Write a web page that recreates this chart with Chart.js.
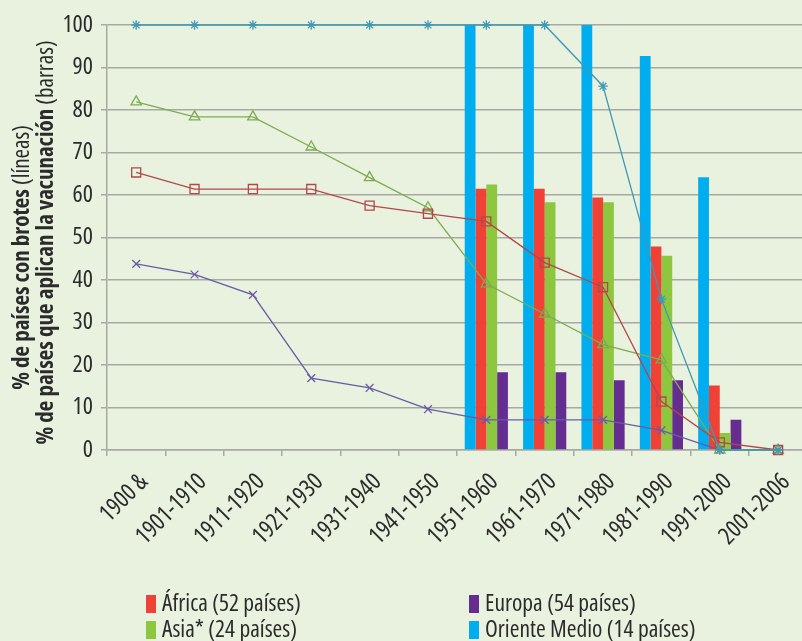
<!DOCTYPE html>
<html>
<head>
<meta charset="utf-8">
<script src="https://cdn.jsdelivr.net/npm/chart.js@4.4.1/dist/chart.umd.min.js"></script>
<style>
  html, body { margin: 0; padding: 0; background: #e9f2de; overflow: hidden; }
  /* the original plot runs a few pixels past the right edge of the picture */
  #wrap { width: 815px; height: 641px; }
</style>
</head>
<body>
<div id="wrap"><canvas id="chart" width="815" height="641"></canvas></div>
<script>
// =============================================================================
// DATA
// =============================================================================

const decades = ['1900 &', '1901-1910', '1911-1920', '1921-1930', '1931-1940', '1941-1950',
                 '1951-1960', '1961-1970', '1971-1980', '1981-1990', '1991-2000', '2001-2006'];

const regions = ['África (52 países)', 'Asia* (24 países)', 'Europa (54 países)', 'Oriente Medio (14 países)'];

// % de países que aplican la vacunación (barras)
const vacOriente = [null, null, null, null, null, null, 100, 100, 100, 92.7, 64.2, 0];
const vacAfrica  = [null, null, null, null, null, null, 61.5, 61.5, 59.4, 47.9, 15.2, 0];
const vacAsia    = [null, null, null, null, null, null, 62.5, 58.3, 58.3, 45.7, 4.0, 0];
const vacEuropa  = [null, null, null, null, null, null, 18.3, 18.3, 16.4, 16.4, 7.1, 0];

// % de países con brotes (líneas)
const brotesOriente = [100, 100, 100, 100, 100, 100, 100, 100, 85.6, 35.5, 0, 0];
const brotesAfrica  = [65.3, 61.4, 61.4, 61.4, 57.5, 55.6, 53.8, 44.1, 38.3, 11.4, 1.8, 0];
const brotesAsia    = [81.9, 78.4, 78.4, 71.3, 64.1, 57.0, 39.1, 32.0, 24.8, 21.2, 0, 0];
const brotesEuropa  = [43.8, 41.3, 36.5, 16.9, 14.6, 9.6, 7.1, 7.1, 7.1, 4.6, 0, 0];

const yTicks = [0, 10, 20, 30, 40, 50, 60, 70, 80, 90, 100];

// =============================================================================
// STYLE
// =============================================================================

// Open Sans has a width axis, 'condensed' gives the narrow look of the original
const FONT = "'Open Sans', 'Noto Sans', sans-serif";
const BG = '#e9f2de';
const GRID = '#a7aaa3';
const TEXT = '#2b2b2b';

const barColors = { africa: '#ef4136', asia: '#8dc63f', europa: '#662d91', oriente: '#00aeef' };
const lineColors = { africa: '#b3474c', asia: '#7eab52', europa: '#6a5ba6', oriente: '#3f98b6' };

// =============================================================================
// PLUGINS
// =============================================================================

// paint the page background on the canvas
const background = {
    id: 'background',
    beforeDraw(chart) {
        const ctx = chart.ctx;
        ctx.save();
        ctx.fillStyle = BG;
        ctx.fillRect(0, 0, chart.width, chart.height);
        ctx.restore();
    }
};

// two-line y title, bold part + normal part on each line
const yTitle = {
    id: 'yTitle',
    afterDraw(chart) {
        const ctx = chart.ctx;
        const area = chart.chartArea;
        const mid = (area.top + area.bottom) / 2;
        const lines = [
            { x: 22, y: mid + 20, bold: '% de países con brotes ', normal: '(líneas)' },
            { x: 46, y: mid + 5, bold: '% de países que aplican la vacunación ', normal: '(barras)' }
        ];
        ctx.save();
        ctx.fillStyle = TEXT;
        ctx.textBaseline = 'middle';
        lines.forEach(l => {
            const boldFont = 'bold condensed 23px ' + FONT;
            const normFont = 'condensed 23px ' + FONT;
            ctx.font = boldFont;
            const wb = ctx.measureText(l.bold).width;
            ctx.font = normFont;
            const wn = ctx.measureText(l.normal).width;
            ctx.save();
            ctx.translate(l.x, l.y);
            ctx.rotate(-Math.PI / 2);
            let start = -(wb + wn) / 2;
            ctx.textAlign = 'left';
            ctx.font = boldFont;
            ctx.fillText(l.bold, start, 0);
            ctx.font = normFont;
            ctx.fillText(l.normal, start + wb, 0);
            ctx.restore();
        });
        ctx.restore();
    }
};

// legend in two columns under the axis
const legendBoxes = {
    id: 'legendBoxes',
    afterDraw(chart) {
        const ctx = chart.ctx;
        const items = chart.data.datasets.filter(d => d.type === 'bar');
        const slots = {
            'África (52 países)': [146, 604],
            'Asia* (24 países)': [146, 630],
            'Europa (54 países)': [469, 604],
            'Oriente Medio (14 países)': [469, 630]
        };
        ctx.save();
        ctx.font = 'condensed 23.5px ' + FONT;
        ctx.textBaseline = 'middle';
        ctx.textAlign = 'left';
        items.forEach(d => {
            const [x, y] = slots[d.label];
            ctx.fillStyle = d.backgroundColor;
            ctx.fillRect(x, y - 9, 10, 18);
            ctx.fillStyle = TEXT;
            ctx.fillText(d.label, x + 16, y);
        });
        ctx.restore();
    }
};

// =============================================================================
// CHART
// =============================================================================

function barSet(label, data, color) {
    return {
        type: 'bar', label: label, data: data,
        backgroundColor: color, borderWidth: 0,
        barPercentage: 1, categoryPercentage: 0.74, order: 2
    };
}

function lineSet(label, data, color, style, radius) {
    return {
        type: 'line', label: label, data: data,
        borderColor: color, borderWidth: 1.3,
        pointStyle: style, pointRadius: radius, pointBorderWidth: 1.3,
        pointBorderColor: color, pointBackgroundColor: 'rgba(0,0,0,0)',
        tension: 0, fill: false, clip: false, order: 1
    };
}

function createChart() {
    let ctx = document.getElementById('chart').getContext('2d');
    return new Chart(ctx, {
        data: {
            labels: decades,
            datasets: [
                barSet(regions[3], vacOriente, barColors.oriente),
                barSet(regions[0], vacAfrica, barColors.africa),
                barSet(regions[1], vacAsia, barColors.asia),
                barSet(regions[2], vacEuropa, barColors.europa),
                lineSet('Brotes ' + regions[3], brotesOriente, lineColors.oriente, 'star', 4.8),
                lineSet('Brotes ' + regions[0], brotesAfrica, lineColors.africa, 'rect', 6.4),
                lineSet('Brotes ' + regions[1], brotesAsia, lineColors.asia, 'triangle', 6),
                lineSet('Brotes ' + regions[2], brotesEuropa, lineColors.europa, 'crossRot', 5.5)
            ]
        },
        options: {
            responsive: false,
            animation: false,
            devicePixelRatio: 1,
            layout: { padding: { top: 25, right: 0, bottom: 0, left: 0 } },
            plugins: {
                legend: { display: false },
                tooltip: { enabled: false }
            },
            scales: {
                x: {
                    grid: { offset: true, drawOnChartArea: false, drawTicks: true, tickLength: 6, color: GRID, lineWidth: 1.5 },
                    border: { color: GRID, width: 1.5 },
                    ticks: {
                        minRotation: 45, maxRotation: 45, autoSkip: false,
                        labelOffset: 8, padding: 12,
                        color: TEXT, font: { family: FONT, weight: 'condensed', size: 24 }
                    },
                    afterFit(scale) {
                        scale.height = 191;
                        scale.paddingLeft = 0;
                        scale.paddingRight = 0;
                    }
                },
                y: {
                    min: 0, max: 100,
                    grid: { color: GRID, lineWidth: 1.5, tickLength: 6 },
                    border: { color: GRID, width: 1.5 },
                    ticks: {
                        stepSize: 10, color: TEXT, padding: 8,
                        font: { family: FONT, weight: 'condensed', size: 24 }
                    },
                    afterBuildTicks(scale) { scale.ticks = yTicks.map(v => ({ value: v })); },
                    afterFit(scale) { scale.width = 107; }
                }
            }
        },
        plugins: [background, yTitle, legendBoxes]
    });
}

window.addEventListener('DOMContentLoaded', () => {
    createChart();
});
</script>
</body>
</html>
